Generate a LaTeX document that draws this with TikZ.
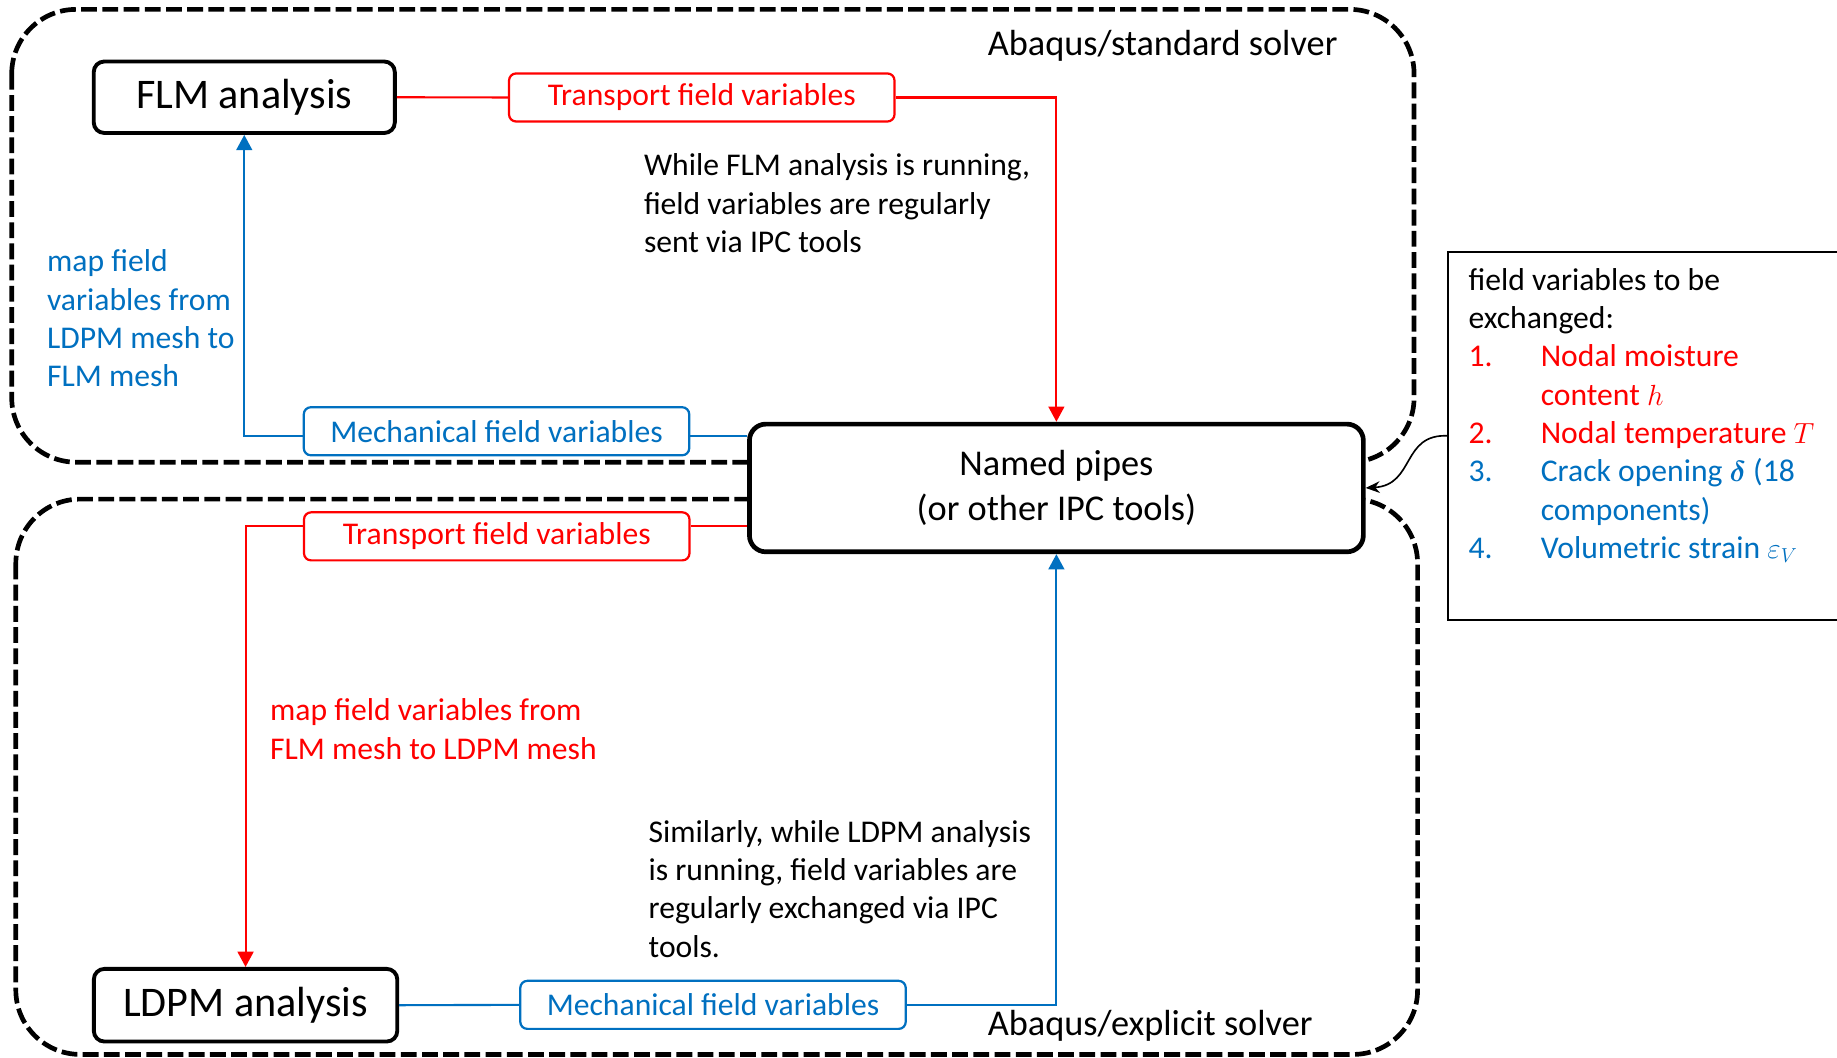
\documentclass[tikz,border=0pt]{standalone}
\usepackage{amsmath}
\usepackage{bm}
\usepackage{fontspec}
\setmainfont{Carlito}
\usetikzlibrary{arrows.meta,calc}
\definecolor{tred}{RGB}{255,0,0}
\definecolor{tblue}{RGB}{0,112,192}

\begin{document}
\begin{tikzpicture}[x=1pt,y=-1pt,
  solverframe/.style={line width=4pt, dash pattern=on 13.5pt off 4.6pt, rounded corners=55pt},
  analysisbox/.style={draw, line width=3.3pt, rounded corners=9pt, fill=white, inner sep=0pt,
    font=\fontsize{36}{42}\selectfont},
  pipebox/.style={draw, line width=4pt, rounded corners=14pt, fill=white, inner sep=0pt,
    align=center, font=\fontsize{31}{38}\selectfont},
  tagbox/.style={draw, line width=1.9pt, rounded corners=6pt, fill=white, inner sep=0pt,
    minimum width=329pt, minimum height=41pt, font=\fontsize{27}{32.7}\selectfont},
  redtag/.style={tagbox, draw=tred, text=tred},
  bluetag/.style={tagbox, draw=tblue, text=tblue},
  redline/.style={draw=tred, line width=1.8pt},
  blueline/.style={draw=tblue, line width=1.8pt},
  tip/.style={-{Triangle[length=13pt,width=13.5pt]}},
  note/.style={anchor=base west, inner sep=0pt, align=left, font=\fontsize{27}{32.7}\selectfont},
  solverlabel/.style={anchor=base west, inner sep=0pt, font=\fontsize{31}{38}\selectfont}]

\useasboundingbox (0,0) rectangle (1568,903);

% solver regions
\draw[solverframe] (10,8) rectangle (1207,394.5);
\draw[solverframe] (13.5,426) rectangle (1210,900);

% analyses and the IPC channel
\node[analysisbox, minimum width=257pt, minimum height=61pt] (flm) at (208.5,83) {FLM analysis};
\node[analysisbox, minimum width=259pt, minimum height=62pt] (ldpm) at (209.6,858) {LDPM analysis};
\node[pipebox, minimum width=524pt, minimum height=109pt] (np) at (901.7,416.5) {Named pipes\\(or other IPC tools)};

% exchanged quantities
\node[redtag] (tr1) at (599,83.2) {Transport field variables};
\node[bluetag] (me1) at (423.8,368.1) {Mechanical field variables};
\node[redtag] (tr2) at (424,457.8) {Transport field variables};
\node[bluetag] (me2) at (608.6,857.7) {Mechanical field variables};

\coordinate (yme1) at (0,372);
\coordinate (ytr2) at (0,449);

% transport data: FLM -> pipes -> LDPM
\draw[redline] (flm.east) -- (tr1.west);
\draw[redline,tip] (tr1.east) -| (np.north);
\draw[redline] (np.west |- ytr2) -- (tr2.east |- ytr2);
\draw[redline,tip] (tr2.west |- ytr2) -| (ldpm.north);

% mechanical data: LDPM -> pipes -> FLM
\draw[blueline] (ldpm.east) -- (me2.west);
\draw[blueline,tip] (me2.east) -| (np.south);
\draw[blueline] (np.west |- yme1) -- (me1.east |- yme1);
\draw[blueline,tip] (me1.west |- yme1) -| (flm.south);

% solver names
\node[solverlabel] (std) at (843,47.3) {Abaqus/standard solver};
\node[solverlabel] (expl) at (843,884) {Abaqus/explicit solver};

% explanatory notes (anchored at the baseline of their last line)
\node[note] (n1) at (549.5,215.4) {While FLM analysis is running,\\field variables are regularly\\sent via IPC tools};
\node[note, text=tblue] (n2) at (40,330) {map field\\variables from\\LDPM mesh to\\FLM mesh};
\node[note, text=tred] (n3) at (230.4,647.9) {map field variables from\\FLM mesh to LDPM mesh};
\node[note] (n4) at (553.5,817.1) {Similarly, while LDPM analysis\\is running, field variables are\\regularly exchanged via IPC\\tools.};

% list of exchanged variables
\draw[line width=1.4pt] (1575,215) -- (1236,215) -- (1236,529) -- (1575,529);
\coordinate (infoL) at (1236,372);
\node[note] (list) at (1253.3,476.6) {field variables to be\\
  exchanged:\\
  \textcolor{tred}{\makebox[61.7pt][l]{1.}Nodal moisture}\\
  \textcolor{tred}{\makebox[61.7pt][l]{}content $h$}\\
  \textcolor{tred}{\makebox[61.7pt][l]{2.}Nodal temperature $T$}\\
  \textcolor{tblue}{\makebox[61.7pt][l]{3.}Crack opening $\bm{\delta}$ (18}\\
  \textcolor{tblue}{\makebox[61.7pt][l]{}components)}\\
  \textcolor{tblue}{\makebox[61.7pt][l]{4.}Volumetric strain $\varepsilon_V$}};
\draw[line width=1.4pt, -{Stealth[length=12pt,width=10pt]}] (infoL) .. controls (1196,370) and (1208,414) .. (np.east);

\end{tikzpicture}
\end{document}
